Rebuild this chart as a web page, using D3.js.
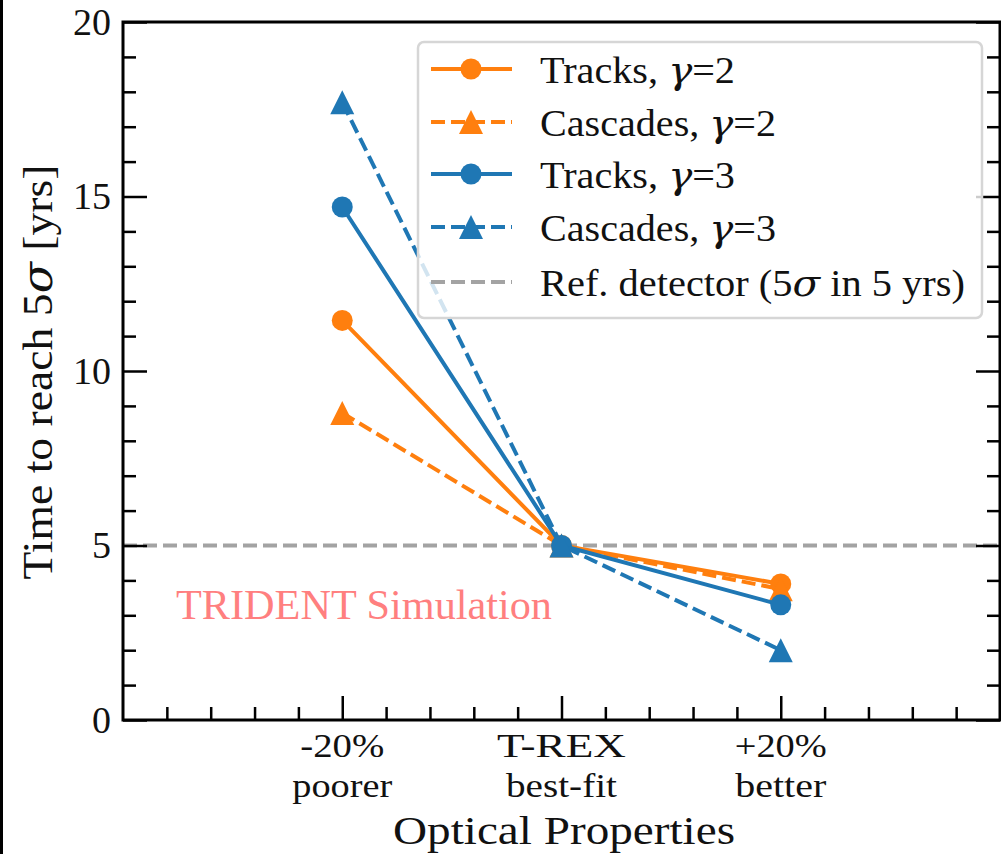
<!DOCTYPE html>
<html>
<head>
<meta charset="utf-8">
<script src="https://cdn.jsdelivr.net/npm/d3@7"></script>
<style>
  html, body { margin: 0; padding: 0; background: #fff; }
  svg { display: block; }
  text { font-family: "Liberation Serif", "DejaVu Serif", serif; fill: #111; }
  .greek { font-family: "DejaVu Serif", serif; font-style: italic; }
</style>
</head>
<body>
<svg id="chart" width="1001" height="854"></svg>
<script>
// ---- data ----
const categoryIndex = [0, 1, 2];
const tickLine1 = ["-20%", "T-REX", "+20%"];
const tickLine2 = ["poorer", "best-fit", "better"];
const tracksG2   = [11.45, 5.0, 3.9];
const cascadesG2 = [8.8, 5.0, 3.75];
const tracksG3   = [14.7, 5.0, 3.3];
const cascadesG3 = [17.7, 5.0, 2.0];
const refValue = 5;
const yMajorTicks = [0, 5, 10, 15, 20];
const seriesNames = ["Tracks, ", "Cascades, ", "Tracks, ", "Cascades, "];
const seriesGamma = ["2", "2", "3", "3"];

// ---- layout ----
const svg = d3.select("#chart");
const L = 123, R = 1000, T = 22, B = 720;
const x = d3.scaleLinear().domain([-1, 3]).range([L, R]);
const y = d3.scaleLinear().domain([0, 20]).range([B, T]);
const orange = "#ff7f0e", blue = "#1f77b4";

const series = [
  { vals: tracksG2,   color: orange, dash: null,   marker: "circle" },
  { vals: cascadesG2, color: orange, dash: "14,6", marker: "triangle" },
  { vals: tracksG3,   color: blue,   dash: null,   marker: "circle" },
  { vals: cascadesG3, color: blue,   dash: "14,6", marker: "triangle" }
];

// left black border
svg.append("rect").attr("x", 0).attr("y", 0).attr("width", 3).attr("height", 854).attr("fill", "#000");

// reference line
svg.append("line")
  .attr("x1", L).attr("x2", R).attr("y1", y(refValue)).attr("y2", y(refValue))
  .attr("stroke", "#a3a3a3").attr("stroke-width", 4).attr("stroke-dasharray", "14,6");

const triPath = (cx, cy, s) => `M${cx},${cy - s}L${cx - s},${cy + s}L${cx + s},${cy + s}Z`;

function drawMarker(g, m, cx, cy, color) {
  if (m === "circle") {
    g.append("circle").attr("cx", cx).attr("cy", cy).attr("r", 10.5).attr("fill", color);
  } else {
    g.append("path").attr("d", triPath(cx, cy, 12)).attr("fill", color);
  }
}

const line = d3.line().x((d, i) => x(categoryIndex[i])).y(d => y(d));
series.forEach(s => {
  const g = svg.append("g");
  g.append("path").datum(s.vals).attr("d", line)
    .attr("fill", "none").attr("stroke", s.color).attr("stroke-width", 4)
    .attr("stroke-dasharray", s.dash);
  s.vals.forEach((v, i) => drawMarker(g, s.marker, x(categoryIndex[i]), y(v), s.color));
});

// TRIDENT Simulation label
svg.append("text").attr("x", 176).attr("y", 619)
  .style("font-size", "43px").style("fill", "#ff7f7f")
  .attr("textLength", 376).attr("lengthAdjust", "spacingAndGlyphs")
  .text("TRIDENT Simulation");

// ---- axes ----
const axisStyle = g => {
  g.select(".domain").remove();
  g.selectAll(".tick line").attr("stroke", "#000").attr("stroke-width", 2.5);
};
const yMinor = d3.range(0, 21, 1).filter(v => !yMajorTicks.includes(v));
const xMajor = categoryIndex;
const xMinor = d3.range(-5, 15, 1).map(v => v / 5).filter(v => !Number.isInteger(v));

svg.append("g").attr("transform", `translate(${L},0)`)
  .call(d3.axisLeft(y).tickValues(yMajorTicks).tickSize(-24).tickPadding(12).tickFormat(d3.format("d")))
  .call(axisStyle)
  .call(g => g.selectAll("text").style("font-size", "38px").style("font-family", "Liberation Serif").attr("fill", "#111"));
svg.append("g").attr("transform", `translate(${L},0)`)
  .call(d3.axisLeft(y).tickValues(yMinor).tickSize(-13).tickFormat(""))
  .call(axisStyle);
svg.append("g").attr("transform", `translate(${R},0)`)
  .call(d3.axisRight(y).tickValues(yMajorTicks).tickSize(-24).tickFormat(""))
  .call(axisStyle);
svg.append("g").attr("transform", `translate(${R},0)`)
  .call(d3.axisRight(y).tickValues(yMinor).tickSize(-13).tickFormat(""))
  .call(axisStyle);
svg.append("g").attr("transform", `translate(0,${B})`)
  .call(d3.axisBottom(x).tickValues(xMajor).tickSize(-24).tickFormat(""))
  .call(axisStyle);
svg.append("g").attr("transform", `translate(0,${B})`)
  .call(d3.axisBottom(x).tickValues(xMinor).tickSize(-13).tickFormat(""))
  .call(axisStyle);

// x tick labels (two lines)
const line1W = [84, 129, 92], line2W = [100, 111, 91];
xMajor.forEach((v, i) => {
  svg.append("text").attr("x", x(v)).attr("y", 757).attr("text-anchor", "middle")
    .style("font-size", "34px").attr("textLength", line1W[i]).attr("lengthAdjust", "spacingAndGlyphs")
    .text(tickLine1[i]);
  svg.append("text").attr("x", x(v)).attr("y", 797).attr("text-anchor", "middle")
    .style("font-size", "34px").attr("textLength", line2W[i]).attr("lengthAdjust", "spacingAndGlyphs")
    .text(tickLine2[i]);
});

// spines
svg.append("rect").attr("x", L).attr("y", T).attr("width", R - L).attr("height", B - T)
  .attr("fill", "none").attr("stroke", "#000").attr("stroke-width", 3);

// axis labels
svg.append("text").attr("x", 564).attr("y", 844).attr("text-anchor", "middle")
  .style("font-size", "41px").attr("textLength", 342).attr("lengthAdjust", "spacingAndGlyphs")
  .text("Optical Properties");
const yl = svg.append("text").attr("transform", `translate(52,372) rotate(-90)`).attr("text-anchor", "middle")
  .style("font-size", "42px").attr("textLength", 415).attr("lengthAdjust", "spacingAndGlyphs");
yl.append("tspan").text("Time to reach 5");
yl.append("tspan").attr("class", "greek").text("σ");
yl.append("tspan").text(" [yrs]");

// ---- legend ----
const lg = svg.append("g");
lg.append("rect").attr("x", 418).attr("y", 42).attr("width", 564).attr("height", 276)
  .attr("rx", 6).attr("fill", "rgba(255,255,255,0.8)").attr("stroke", "#d6d6d6").attr("stroke-width", 2.5);
const rowY = [69, 122, 174, 227, 282];
const legendWidths = [195, 236, 195, 236, 425];
series.forEach((s, i) => {
  const ry = rowY[i];
  lg.append("line").attr("x1", 431).attr("x2", 512).attr("y1", ry).attr("y2", ry)
    .attr("stroke", s.color).attr("stroke-width", 4).attr("stroke-dasharray", s.dash);
  drawMarker(lg, s.marker, 471, ry, s.color);
  const t = lg.append("text").attr("x", 540).attr("y", ry + 14).style("font-size", "38px")
    .attr("textLength", legendWidths[i]).attr("lengthAdjust", "spacingAndGlyphs");
  t.append("tspan").text(seriesNames[i]);
  t.append("tspan").attr("class", "greek").text("γ");
  t.append("tspan").text("=" + seriesGamma[i]);
});
lg.append("line").attr("x1", 431).attr("x2", 512).attr("y1", rowY[4]).attr("y2", rowY[4])
  .attr("stroke", "#a3a3a3").attr("stroke-width", 4).attr("stroke-dasharray", "14,6");
const rt = lg.append("text").attr("x", 540).attr("y", rowY[4] + 14).style("font-size", "38px")
  .attr("textLength", legendWidths[4]).attr("lengthAdjust", "spacingAndGlyphs");
rt.append("tspan").text("Ref. detector (5");
rt.append("tspan").attr("class", "greek").text("σ");
rt.append("tspan").text(" in 5 yrs)");
</script>
</body>
</html>
